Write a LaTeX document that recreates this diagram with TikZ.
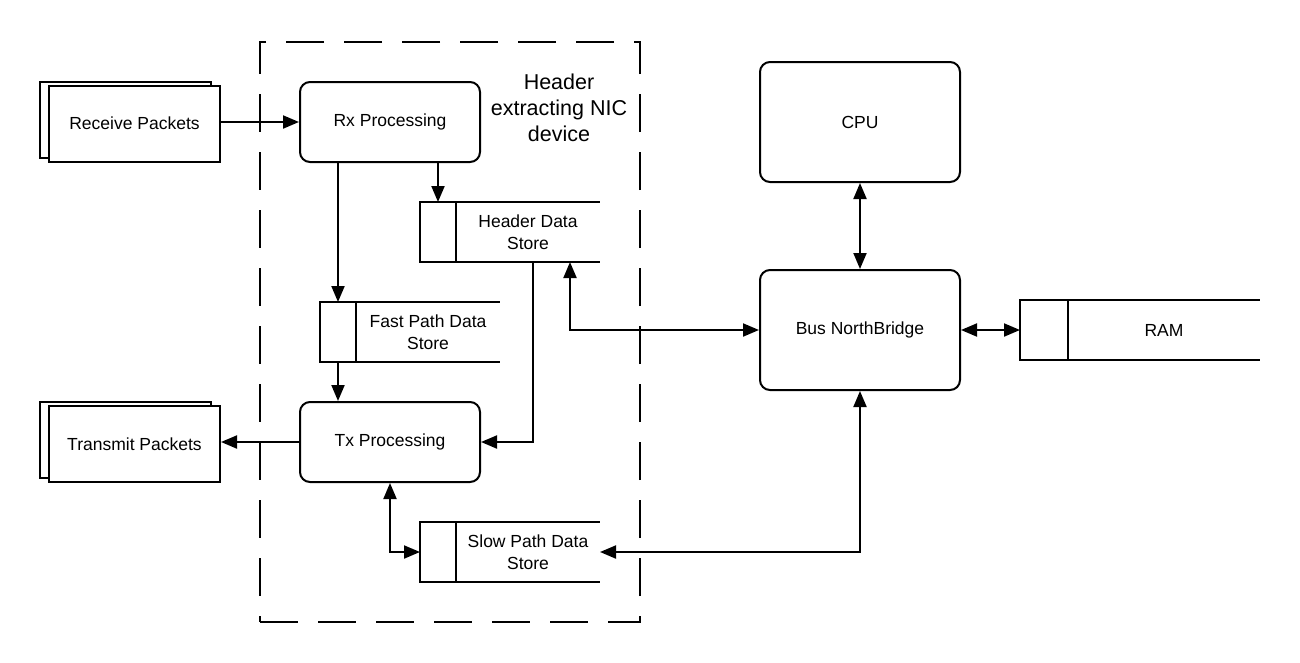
\documentclass[tikz,border=0pt]{standalone}
\usepackage{fontspec}
\setmainfont{Liberation Sans}
\usetikzlibrary{
  arrows.meta,
  positioning,
  shadows
}
\newcommand\diagfont{\fontsize{17.5}{22}\selectfont}
\tikzset{
  wire/.style={line width=2pt},
  arr/.style={wire, -{Triangle[length=16pt,width=13pt]}},
  darr/.style={wire, {Triangle[length=16pt,width=13pt]}-{Triangle[length=16pt,width=13pt]}},
  proc/.style={wire, draw, rounded corners=10pt, minimum width=180pt, minimum height=80pt, font=\diagfont},
  hub/.style={proc, minimum width=200pt, minimum height=120pt},
  packets/.style={wire, draw, fill=white, minimum width=171pt, minimum height=76pt, font=\diagfont,
    copy shadow={shadow xshift=-9pt, shadow yshift=4pt}},
  slot/.style={wire, draw, outer sep=0pt, minimum width=36pt, minimum height=60pt},
  store/.style={outer sep=0pt, minimum width=144pt, minimum height=60pt, align=center, font=\diagfont},
  nicbox/.style={wire, draw, dash pattern=on 38pt off 20pt, minimum width=380pt, minimum height=580pt},
  nictitle/.style={align=center, font=\fontsize{21.5}{26}\selectfont}
}
\begin{document}
\begin{tikzpicture}[x=1pt,y=-1pt]
\useasboundingbox (0,0) rectangle (1300,662);
\node[nicbox] (nic) at (450,332) {};
\node[nictitle] (nictext) at (559,108) {Header\\extracting NIC\\device};
\node[packets] (rcv) at (134.5,123.5) {Receive Packets};
\node[packets] (trx) at (134.5,444) {Transmit Packets};
\node[proc] (rx) at (390,122) {Rx Processing};
\node[proc] (tx) at (390,442) {Tx Processing};
\node[slot] (hdsk) at (438,232) {};
\node[store, right=0pt of hdsk] (hds) {Header Data\\Store};
\node[slot] (fpsk) at (338,332) {};
\node[store, right=0pt of fpsk] (fps) {Fast Path Data\\Store};
\node[slot] (spsk) at (438,552) {};
\node[store, right=0pt of spsk] (sps) {Slow Path Data\\Store};
\node[hub] (cpu) at (860,122) {CPU};
\node[hub] (bus) at (860,330) {Bus NorthBridge};
\node[slot, minimum width=48pt] (ramk) at (1044,330) {};
\node[store, minimum width=192pt, right=0pt of ramk] (ram) {RAM};
\foreach \s in {hds,fps,sps,ram}
  \draw[wire] (\s.north west) -- (\s.north east) (\s.south west) -- (\s.south east);

\draw[arr] (rcv.east |- rx.west) -- (rx.west);
\draw[arr] (rx.south -| hdsk.north) -- (hdsk.north);
\draw[arr] (rx.south -| fpsk.north) -- (fpsk.north);
\draw[arr] (fpsk.south) -- (fpsk.south |- tx.north);
\draw[arr] ([xshift=5pt]hds.south) |- (tx.east);
\draw[arr] (tx.west) -- (tx.west -| trx.east);
\draw[darr] (tx.south) |- (spsk.west);
\draw[darr] (bus.south) |- (sps.east);
\draw[darr] ([xshift=42pt]hds.south) |- (bus.west);
\draw[darr] (cpu) -- (bus);
\draw[darr] (bus.east) -- (ramk.west);
\end{tikzpicture}
\end{document}
